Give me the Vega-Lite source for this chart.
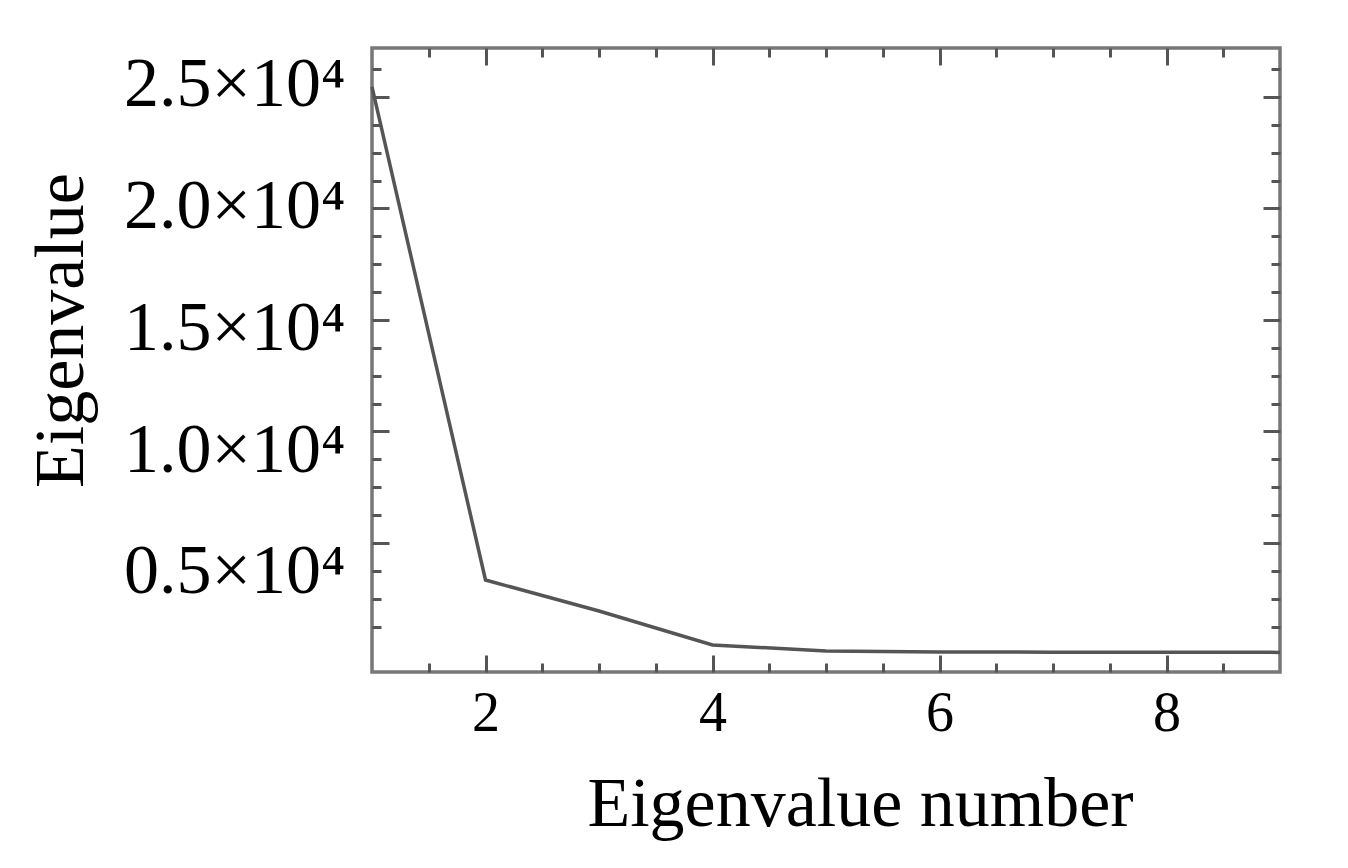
{
  "$schema": "https://vega.github.io/schema/vega-lite/v6.json",
  "width": 908,
  "height": 624,
  "autosize": "none",
  "padding": {"left": 372, "top": 48, "right": 68, "bottom": 196},
  "background": "white",
  "config": {
    "view": {"stroke": "#777777", "strokeWidth": 3.5},
    "axis": {
      "domain": false,
      "grid": false,
      "tickColor": "#555555",
      "tickWidth": 3,
      "labelFont": "Liberation Serif",
      "titleFont": "Liberation Serif",
      "labelColor": "black",
      "titleColor": "black",
      "titleFontWeight": "normal",
      "labelOverlap": false,
      "labelFlush": false,
      "labelLimit": 0
    }
  },
  "data": {
    "values": [
      {"n": 1, "eigenvalue": 25450},
      {"n": 2, "eigenvalue": 3340},
      {"n": 3, "eigenvalue": 1950},
      {"n": 4, "eigenvalue": 430},
      {"n": 5, "eigenvalue": 160},
      {"n": 6, "eigenvalue": 112},
      {"n": 7, "eigenvalue": 105},
      {"n": 8, "eigenvalue": 100},
      {"n": 9, "eigenvalue": 95}
    ]
  },
  "layer": [
    {
      "mark": {"type": "line", "color": "#555555", "strokeWidth": 3.5},
      "encoding": {
        "x": {
          "field": "n",
          "type": "quantitative",
          "scale": {"domain": [1, 9], "nice": false, "zero": false},
          "axis": {
            "orient": "bottom",
            "values": [1.5, 2, 2.5, 3, 3.5, 4, 4.5, 5, 5.5, 6, 6.5, 7, 7.5, 8, 8.5],
            "tickSize": {"condition": {"test": "datum.value % 2 === 0", "value": -17}, "value": -9},
            "labelExpr": "datum.value % 2 === 0 ? format(datum.value, 'd') : ''",
            "labelFontSize": 56,
            "labelPadding": 31,
            "labelBaseline": "top",
            "title": "Eigenvalue number",
            "titleFontSize": 70,
            "titleX": 488,
            "titleY": 153,
            "titleBaseline": "alphabetic",
            "titleAlign": "center"
          }
        },
        "y": {
          "field": "eigenvalue",
          "type": "quantitative",
          "scale": {"domain": [-785, 27197], "nice": false, "zero": false},
          "axis": {
            "orient": "left",
            "values": [1250, 2500, 3750, 5000, 6250, 7500, 8750, 10000, 11250, 12500, 13750, 15000, 16250, 17500, 18750, 20000, 21250, 22500, 23750, 25000, 26250],
            "tickSize": {"condition": {"test": "datum.value % 5000 === 0", "value": -17}, "value": -9},
            "labelExpr": "datum.value % 5000 === 0 ? format(datum.value / 10000, '.1f') + '×10⁴' : ''",
            "labelFontSize": 70,
            "labelPadding": 44,
            "labelOffset": {"expr": "(25000 - datum.value) / 20000 * 41 - 12"},
            "title": "Eigenvalue",
            "titleFontSize": 70,
            "titleAngle": 270,
            "titleX": -290,
            "titleY": 282,
            "titleBaseline": "alphabetic",
            "titleAlign": "center"
          }
        }
      }
    },
    {
      "mark": {"type": "point", "opacity": 0},
      "encoding": {
        "x": {
          "field": "n",
          "type": "quantitative",
          "scale": {"domain": [1, 9], "nice": false, "zero": false},
          "axis": {
            "orient": "top",
            "values": [1.5, 2, 2.5, 3, 3.5, 4, 4.5, 5, 5.5, 6, 6.5, 7, 7.5, 8, 8.5],
            "tickSize": {"condition": {"test": "datum.value % 2 === 0", "value": -17}, "value": -9},
            "labels": false,
            "title": null
          }
        },
        "y": {
          "field": "eigenvalue",
          "type": "quantitative",
          "scale": {"domain": [-785, 27197], "nice": false, "zero": false},
          "axis": {
            "orient": "right",
            "values": [1250, 2500, 3750, 5000, 6250, 7500, 8750, 10000, 11250, 12500, 13750, 15000, 16250, 17500, 18750, 20000, 21250, 22500, 23750, 25000, 26250],
            "tickSize": {"condition": {"test": "datum.value % 5000 === 0", "value": -17}, "value": -9},
            "labels": false,
            "title": null
          }
        }
      }
    }
  ]
}
